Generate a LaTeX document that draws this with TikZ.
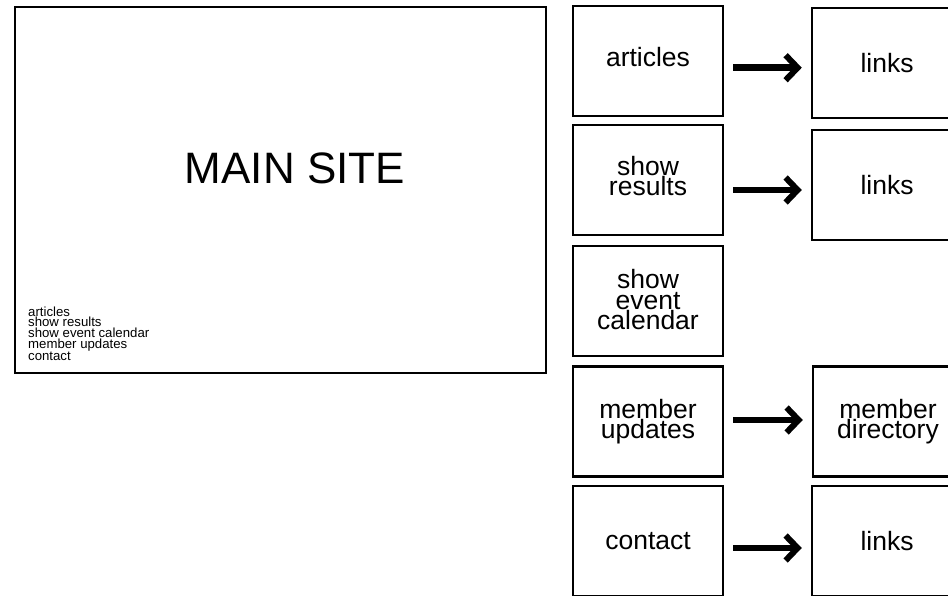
\documentclass[tikz,border=0pt]{standalone}
\usepackage{fontspec}
\setmainfont{Liberation Sans}
\usetikzlibrary{arrows.meta}
\tikzset{
  box/.style={draw=black, line width=2.5pt, rectangle, minimum width=150pt, minimum height=110pt,
    inner sep=0pt, align=center, font=\fontsize{26.5}{20.5}\selectfont, fill=white},
  conn/.style={line width=6.5pt, shorten <=9pt, shorten >=9pt,
    -{Straight Barb[length=12pt,width=25pt,line width=6pt,sharp]}},
}
\begin{document}
\begin{tikzpicture}[x=1pt,y=-1pt]
\useasboundingbox (0,0) rectangle (948,595);
\fill[white] (0,0) rectangle (948,595);
% main site
\node[draw=black, line width=2.5pt, rectangle, minimum width=531pt, minimum height=366pt, inner sep=0pt] (main) at (280.5,190) {};
\node[font=\fontsize{44}{44}\selectfont, inner sep=0pt] (title) at (295,168.5) {MAIN SITE};
\node[anchor=north west, inner sep=0pt, align=left, font=\fontsize{13.2}{10.6}\selectfont] (list) at (28,306.5) {articles\\show results\\show event calendar\\member updates\\contact};
% left column
\node[box, text depth=8pt] (articles) at (648,61) {articles};
\node[box, text depth=8pt] (results) at (648,180) {show\\results};
\node[box, text depth=3pt] (calendar) at (648,301) {show\\event\\calendar};
\node[box] (updates) at (648,421.5) {member\\updates};
\node[box] (contact) at (648,541) {contact};
% right column
\node[box] (links1) at (887,63) {links};
\node[box] (links2) at (887,185) {links};
\node[box] (directory) at (888,421.5) {member\\directory};
\node[box] (links3) at (887,541) {links};
% connectors
\draw[conn] ([yshift=-6.7pt]articles.east) -- ([yshift=-6.7pt]articles.east -| links1.west);
\draw[conn] ([yshift=-10pt]results.east) -- ([yshift=-10pt]results.east -| links2.west);
\draw[conn] ([yshift=1.5pt]updates.east) -- ([yshift=1.5pt]updates.east -| directory.west);
\draw[conn] ([yshift=-7pt]contact.east) -- ([yshift=-7pt]contact.east -| links3.west);
\end{tikzpicture}
\end{document}
